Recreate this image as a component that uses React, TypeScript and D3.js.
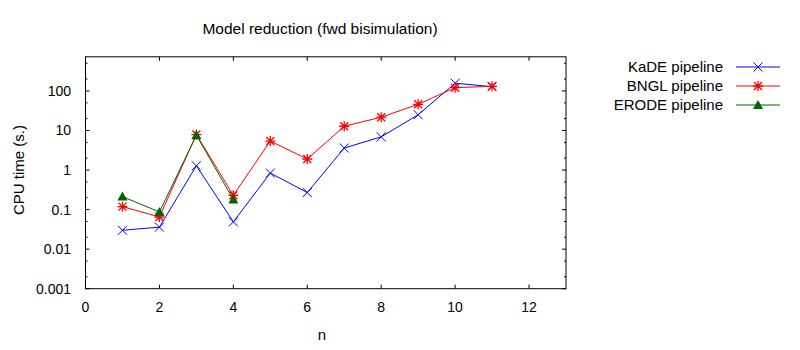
import { useEffect, useRef } from "react"
import * as d3 from "d3"

const nValues = [1, 2, 3, 4, 5, 6, 7, 8, 9, 10, 11]
const kadeTimes = [0.03, 0.036, 1.28, 0.049, 0.84, 0.27, 3.6, 6.9, 25, 157, 128]
const bnglTimes = [0.119, 0.065, 7.9, 0.23, 5.4, 1.9, 12.8, 21.7, 46, 121, 131]
const erodeTimes = [0.213, 0.087, 7.6, 0.179]

const xTicks = [0, 2, 4, 6, 8, 10, 12]
const yTicks = [0.001, 0.01, 0.1, 1, 10, 100]
const yTickLabels = ["0.001", "0.01", "0.1", "1", "10", "100"]
const seriesNames = ["KaDE pipeline", "BNGL pipeline", "ERODE pipeline"]

export default function App() {
  const ref = useRef<SVGSVGElement | null>(null)

  useEffect(() => {
    const svg = d3.select(ref.current)
    svg.selectAll("*").remove()

    const width = 800
    const height = 350
    const left = 85.5
    const right = 566
    const top = 56.8
    const bottom = 288.7
    const font = "'Liberation Sans', Arial, sans-serif"

    svg.attr("width", width).attr("height", height)
      .style("position", "absolute").style("left", 0).style("top", 0)
      .style("font-family", font)

    svg.append("rect").attr("width", width).attr("height", height).attr("fill", "#fff")

    const x = d3.scaleLinear().domain([0, 13]).range([left, right])
    const y = d3.scaleLog().domain([0.001, 730]).range([bottom, top])

    const g = svg.append("g")

    // ticks, mirrored on all sides, pointing inward
    xTicks.forEach(t => {
      g.append("line").attr("x1", x(t)).attr("x2", x(t)).attr("y1", bottom).attr("y2", bottom - 4)
        .attr("stroke", "#000")
      g.append("line").attr("x1", x(t)).attr("x2", x(t)).attr("y1", top).attr("y2", top + 4)
        .attr("stroke", "#000")
      g.append("text").text(t).attr("x", x(t)).attr("y", bottom + 23)
        .attr("text-anchor", "middle").attr("font-size", 14)
    })

    const minor: number[] = []
    for (let e = -3; e <= 2; e++) {
      ;[2, 5].forEach(m => {
        const v = m * Math.pow(10, e)
        if (v <= 730) minor.push(v)
      })
    }
    minor.forEach(v => {
      g.append("line").attr("x1", left).attr("x2", left + 2).attr("y1", y(v)).attr("y2", y(v))
        .attr("stroke", "#000")
      g.append("line").attr("x1", right).attr("x2", right - 2).attr("y1", y(v)).attr("y2", y(v))
        .attr("stroke", "#000")
    })

    yTicks.forEach((t, i) => {
      g.append("line").attr("x1", left).attr("x2", left + 4).attr("y1", y(t)).attr("y2", y(t))
        .attr("stroke", "#000")
      g.append("line").attr("x1", right).attr("x2", right - 4).attr("y1", y(t)).attr("y2", y(t))
        .attr("stroke", "#000")
      g.append("text").text(yTickLabels[i]).attr("x", 71).attr("y", y(t) + 5)
        .attr("text-anchor", "end").attr("font-size", 14)
    })

    g.append("rect").attr("x", left).attr("y", top).attr("width", right - left).attr("height", bottom - top)
      .attr("fill", "none").attr("stroke", "#000")

    // labels
    svg.append("text").text("Model reduction (fwd bisimulation)").attr("x", 320).attr("y", 34)
      .attr("text-anchor", "middle").attr("font-size", 15.5)
    svg.append("text").text("n").attr("x", 322).attr("y", 340)
      .attr("text-anchor", "middle").attr("font-size", 15)
    svg.append("text").text("CPU time (s.)")
      .attr("transform", "translate(24,170) rotate(-90)")
      .attr("text-anchor", "middle").attr("font-size", 15)

    const line = d3.line<[number, number]>().x(d => x(d[0])).y(d => y(d[1]))

    const series = [
      { values: kadeTimes, color: "#0000ff", marker: "cross" },
      { values: bnglTimes, color: "#ff0000", marker: "star" },
      { values: erodeTimes, color: "#006400", marker: "triangle" },
    ]

    const drawMarker = (sel: d3.Selection<SVGGElement, unknown, null, undefined>, cx: number, cy: number, kind: string, color: string) => {
      const s = 4.5
      if (kind === "cross") {
        sel.append("path").attr("d", `M${cx - s},${cy - s}L${cx + s},${cy + s}M${cx - s},${cy + s}L${cx + s},${cy - s}`)
          .attr("stroke", color).attr("fill", "none")
      } else if (kind === "star") {
        const t = 4
        sel.append("path").attr("d", `M${cx - t},${cy - t}L${cx + t},${cy + t}M${cx - t},${cy + t}L${cx + t},${cy - t}M${cx},${cy - t - 1}L${cx},${cy + t + 1}M${cx - t - 1},${cy}L${cx + t + 1},${cy}`)
          .attr("stroke", color).attr("stroke-width", 1.3).attr("fill", "none")
      } else {
        sel.append("path").attr("d", `M${cx},${cy - 5}L${cx + 5},${cy + 4}L${cx - 5},${cy + 4}Z`)
          .attr("fill", color)
      }
    }

    series.forEach((sr, i) => {
      const pts = sr.values.map((v, j) => [nValues[j], v] as [number, number])
      const sg = svg.append("g")
      sg.append("path").datum(pts).attr("d", line).attr("fill", "none").attr("stroke", sr.color)
      pts.forEach(p => drawMarker(sg, x(p[0]), y(p[1]), sr.marker, sr.color))

      // legend
      const ly = 67 + i * 19
      svg.append("text").text(seriesNames[i]).attr("x", 723).attr("y", ly + 5)
        .attr("text-anchor", "end").attr("font-size", 15)
      svg.append("line").attr("x1", 736).attr("x2", 780).attr("y1", ly).attr("y2", ly)
        .attr("stroke", sr.color)
      drawMarker(sg, 758, ly, sr.marker, sr.color)
    })
  }, [])

  return <svg ref={ref} />
}
